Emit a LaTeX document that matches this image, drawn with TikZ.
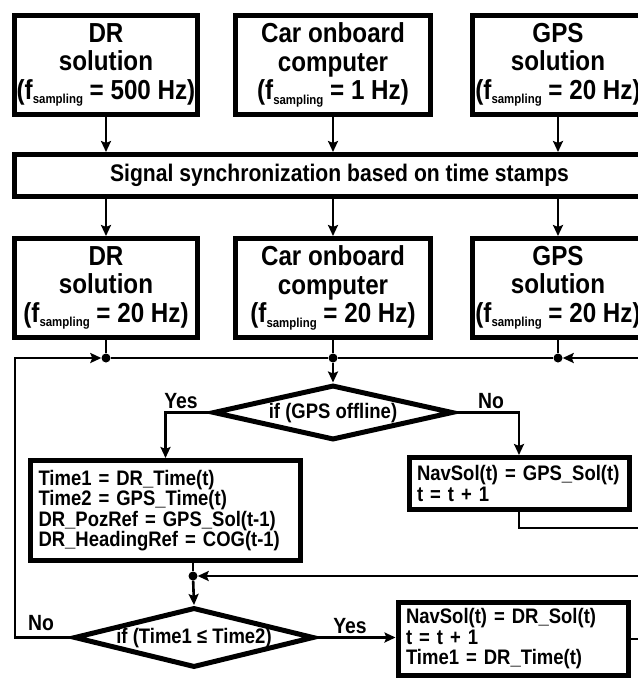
\documentclass[tikz,border=0pt]{standalone}
\usepackage{fontspec}
\setmainfont{Liberation Sans}[FakeStretch=0.88]
\usetikzlibrary{arrows.meta,shapes.geometric}
\newcommand{\fsamp}{(f\raisebox{-4.5pt}{\fontsize{13}{13}\selectfont sampling}}
\begin{document}
\begin{tikzpicture}[x=1pt,y=-1pt,
  bigbox/.style={draw,line width=5pt,inner sep=0pt,align=center,minimum height=99pt,
    font=\bfseries\fontsize{27.5}{28.5}\selectfont},
  syncbox/.style={draw,line width=5pt,inner sep=0pt,minimum height=42pt,minimum width=650pt,
    font=\bfseries\fontsize{24}{24}\selectfont},
  smallbox/.style={draw,line width=5pt,inner xsep=8pt,inner ysep=0pt,align=left,
    font=\bfseries\fontsize{21}{20.5}\selectfont},
  dia/.style={draw,diamond,line width=5pt,inner sep=0pt,minimum width=240pt},
  diatext/.style={inner sep=0pt,font=\bfseries\fontsize{21}{21}\selectfont},
  conn/.style={line width=2.6pt},
  arr/.style={conn,-{Stealth[length=11pt,width=10pt,inset=2pt]}},
  dot/.style={circle,fill,inner sep=0pt,minimum size=9pt},
  lbl/.style={inner sep=0pt,anchor=base,font=\bfseries\fontsize{22}{22}\selectfont}
]
\useasboundingbox (0,0) rectangle (638,681);
\fill[white] (0,0) rectangle (638,681);
\clip (0,0) rectangle (638,681);

% top row
\node[bigbox,minimum width=183pt] (dr1) at (106,65) {DR\\solution\\\fsamp{} = 500 Hz)};
\node[bigbox,minimum width=195pt] (car1) at (333,65) {Car onboard\\computer\\\fsamp{} = 1 Hz)};
\node[bigbox,minimum width=171pt] (gps1) at (558,65) {GPS\\solution\\\fsamp{} = 20 Hz)};

% sync
\node[syncbox] (sync) at (339.5,175.5) {Signal synchronization based on time stamps};

% second row
\node[bigbox,minimum width=183pt] (dr2) at (106,288) {DR\\solution\\\fsamp{} = 20 Hz)};
\node[bigbox,minimum width=195pt] (car2) at (333,288) {Car onboard\\computer\\\fsamp{} = 20 Hz)};
\node[bigbox,minimum width=171pt] (gps2) at (558,288) {GPS\\solution\\\fsamp{} = 20 Hz)};

\draw[arr] (dr1.south) -- (dr1.south |- sync.north);
\draw[arr] (car1.south) -- (car1.south |- sync.north);
\draw[arr] (gps1.south) -- (gps1.south |- sync.north);
\draw[arr] (dr1.south |- sync.south) -- (dr2.north);
\draw[arr] (car1.south |- sync.south) -- (car2.north);
\draw[arr] (gps1.south |- sync.south) -- (gps2.north);

% bus
\node[dot] (b1) at (106,358) {};
\node[dot] (b2) at (333,358) {};
\node[dot] (b3) at (558,358) {};
\coordinate (cL) at (15,358);
\coordinate (eR1) at (660,358);
\draw[conn] (dr2.south) -- (b1);
\draw[conn] (car2.south) -- (b2);
\draw[conn] (gps2.south) -- (b3);
\draw[conn] (b1) -- (b2) -- (b3);
\draw[arr] (eR1) -- (b3);

% decision 1
\node[dia,minimum height=55pt] (dia1) at (333,412.5) {};
\node[diatext] (t1) at (333,413) {if (GPS offline)};
\draw[arr] (b2) -- (dia1.north);

\node[smallbox,text width=254pt,minimum height=100pt] (lbox) at (165.5,510.5)
  {Time1 = DR\_Time(t)\\Time2 = GPS\_Time(t)\\DR\_PozRef = GPS\_Sol(t-1)\\DR\_HeadingRef = COG(t-1)};
\node[smallbox,text width=204pt,minimum height=52pt] (rbox) at (519,483.5)
  {NavSol(t) = GPS\_Sol(t)\\t = t + 1};

\draw[arr] (dia1.west) -| (lbox.north);
\draw[arr] (dia1.east) -| (rbox.north);
\node[lbl] (yes1) at (181,408) {Yes};
\node[lbl] (no1) at (491,408) {No};

\coordinate (eR2) at (660,528);
\draw[conn] (rbox.south) |- (eR2);

% junction
\node[dot] (jn) at (193,576) {};
\coordinate (eR3) at (660,576);
\draw[conn] (lbox.south -| jn) -- (jn);
\draw[arr] (eR3) -- (jn);

% decision 2
\node[dia,minimum height=60pt] (dia2) at (194,637.5) {};
\node[diatext] (t2) at (194,638) {if (Time1 ≤ Time2)};
\draw[arr] (jn) -- (dia2.north);

\node[smallbox,text width=214pt,minimum height=73pt] (box3) at (513,639)
  {NavSol(t) = DR\_Sol(t)\\t = t + 1\\Time1 = DR\_Time(t)};
\draw[arr] (dia2.east) -- (dia2.east -| box3.west);
\coordinate (eR4) at (660,639);
\draw[conn] (box3.east) -- (eR4);
\node[lbl] (yes2) at (350,633) {Yes};
\node[lbl] (no2) at (41,630) {No};

\draw[arr] (dia2.west) -| (cL) -- (b1);
\end{tikzpicture}
\end{document}
